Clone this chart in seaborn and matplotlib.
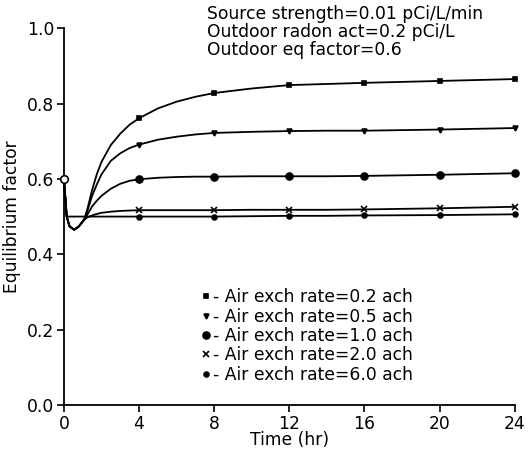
import numpy as np
import pandas as pd
import seaborn as sns
import matplotlib.pyplot as plt
from matplotlib.lines import Line2D

# Time axis (hr) and the equilibrium factor
time = [0, 0.15, 0.3, 0.55, 0.8, 1.1, 1.25, 1.5, 1.75, 2, 2.5, 3, 3.5, 4,
        5, 6, 7, 8, 10, 12, 14, 16, 20, 24]
marker_times = [4, 8, 12, 16, 20, 24]

ach_02 = [0.60, 0.50, 0.474, 0.465, 0.474, 0.495, 0.52, 0.57, 0.612, 0.645, 0.69, 0.72, 0.744, 0.761,
          0.787, 0.805, 0.818, 0.828, 0.840, 0.849, 0.852, 0.855, 0.860, 0.865]
ach_05 = [0.60, 0.50, 0.474, 0.465, 0.474, 0.494, 0.515, 0.555, 0.585, 0.612, 0.648, 0.668, 0.682, 0.691,
          0.704, 0.712, 0.718, 0.722, 0.725, 0.727, 0.728, 0.728, 0.731, 0.735]
ach_10 = [0.60, 0.50, 0.474, 0.465, 0.474, 0.493, 0.505, 0.527, 0.542, 0.555, 0.574, 0.587, 0.595, 0.599,
          0.603, 0.605, 0.606, 0.606, 0.607, 0.607, 0.607, 0.608, 0.611, 0.615]
ach_20 = [0.60, 0.50, 0.474, 0.465, 0.474, 0.492, 0.498, 0.503, 0.507, 0.510, 0.513, 0.515, 0.516, 0.517,
          0.517, 0.517, 0.517, 0.517, 0.518, 0.518, 0.518, 0.519, 0.522, 0.526]
ach_60 = [0.60, 0.50, 0.50, 0.50, 0.50, 0.50, 0.50, 0.50, 0.50, 0.50, 0.50, 0.50, 0.50, 0.50,
          0.50, 0.50, 0.50, 0.50, 0.501, 0.502, 0.502, 0.503, 0.504, 0.506]

series_labels = ['Air exch rate=0.2 ach', 'Air exch rate=0.5 ach', 'Air exch rate=1.0 ach',
                 'Air exch rate=2.0 ach', 'Air exch rate=6.0 ach']
series_values = [ach_02, ach_05, ach_10, ach_20, ach_60]
series_markers = ['s', 'v', 'o', 'x', 'o']
marker_sizes = [3.5, 3.5, 5, 5, 3.5]

start_time = 0
start_value = 0.6

annotation = ['Source strength=0.01 pCi/L/min',
              'Outdoor radon act=0.2 pCi/L',
              'Outdoor eq factor=0.6']

sns.set_style('ticks')
plt.rcParams['font.family'] = ['DejaVu Sans']
plt.rcParams['text.color'] = 'black'
plt.rcParams['axes.labelcolor'] = 'black'
plt.rcParams['xtick.color'] = 'black'
plt.rcParams['ytick.color'] = 'black'
FS = 12.3

fig = plt.figure(figsize=(5.28, 4.55), dpi=100)
ax = fig.add_axes([0.121, 0.110, 0.854, 0.828])

markevery = [i for i, t in enumerate(time) if t in marker_times]
for label, values, mk, ms in zip(series_labels, series_values, series_markers, marker_sizes):
    df = pd.DataFrame({'time': time, 'value': values})
    sns.lineplot(data=df, x='time', y='value', ax=ax, color='black', lw=1.3,
                 marker=mk, markersize=ms, markevery=markevery, markeredgewidth=1.2,
                 markeredgecolor='black', markerfacecolor='black',
                 clip_on=False, sort=False)

# open circle at t=0
ax.scatter([start_time], [start_value], s=30, facecolors='white', edgecolors='black',
           linewidths=1.2, zorder=5, clip_on=False)

ax.set_xlim(0, 24)
ax.set_ylim(0, 1.0)
ax.set_xticks([0, 4, 8, 12, 16, 20, 24])
ax.set_yticks([0.0, 0.2, 0.4, 0.6, 0.8, 1.0])
ax.set_yticklabels(['0.0', '0.2', '0.4', '0.6', '0.8', '1.0'])
ax.tick_params(axis='both', labelsize=FS, width=1.2, length=5, pad=2, color='black')
ax.set_xlabel('Time (hr)', fontsize=FS, labelpad=-1)
ax.set_ylabel('Equilibrium factor', fontsize=FS, labelpad=4)
sns.despine(ax=ax)
for sp in ['left', 'bottom']:
    ax.spines[sp].set_linewidth(1.3)
    ax.spines[sp].set_color('black')

# legend drawn as marker + "- label"
handles = [Line2D([], [], color='black', marker=mk, linestyle='none', markersize=ms,
                  markeredgewidth=1.2) for mk, ms in zip(series_markers, marker_sizes)]
ax.legend(handles, ['- ' + s for s in series_labels], loc='upper left',
          bbox_to_anchor=(0.303, 0.31), frameon=False, fontsize=FS,
          handlelength=0.6, handletextpad=0.15, labelspacing=0.08, borderpad=0,
          borderaxespad=0)

fig.text(0.392, 0.99, '\n'.join(annotation), fontsize=FS, va='top', ha='left',
         linespacing=1.0)

fig.savefig('out.png', dpi=100)
